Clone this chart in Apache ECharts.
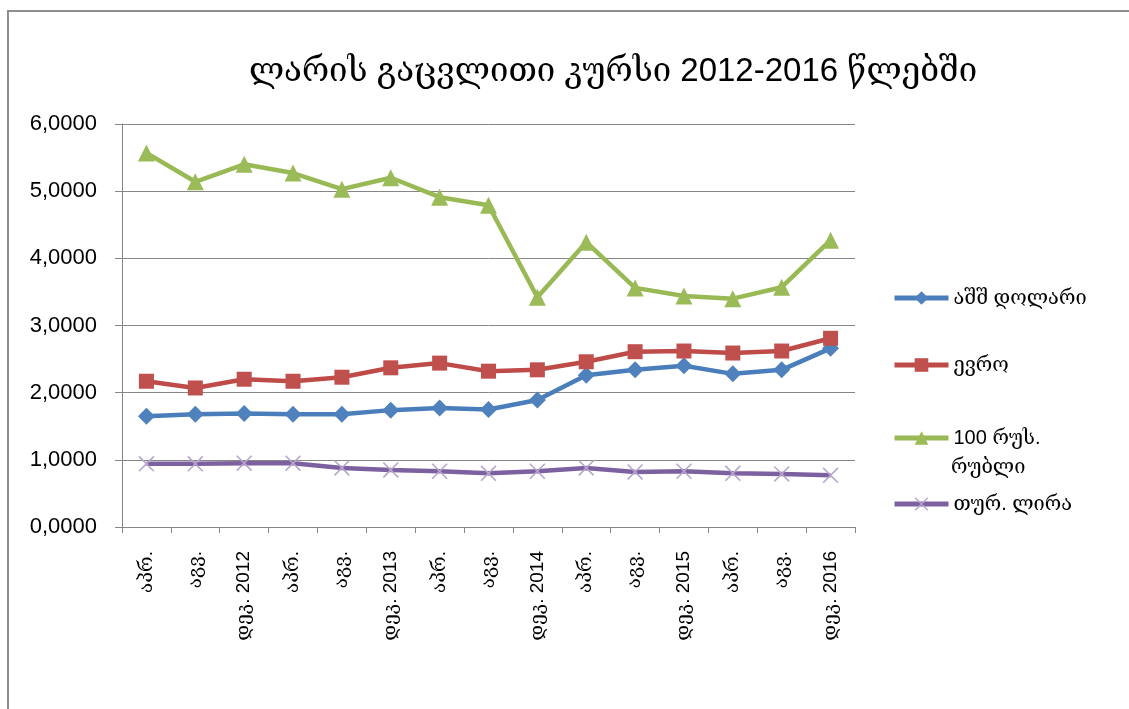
<!DOCTYPE html>
<html>
<head>
<meta charset="utf-8">
<script src="https://cdn.jsdelivr.net/npm/echarts@6/dist/echarts.min.js"></script>
<style>
  html, body { margin: 0; padding: 0; background: #fff; }
  #frame { position: absolute; left: 7px; top: 10px; width: 1130px; height: 710px;
           border-left: 2px solid #8e8e8e; border-top: 2px solid #8e8e8e; }
  #chart { width: 1129px; height: 709px; position: absolute; left: 0; top: 0; }
</style>
</head>
<body>
<div id="frame"></div>
<div id="chart"></div>
<script>
const months = ['აპრ.', 'აგვ.', 'დეკ. 2012', 'აპრ.', 'აგვ.', 'დეკ. 2013', 'აპრ.', 'აგვ.', 'დეკ. 2014',
  'აპრ.', 'აგვ.', 'დეკ. 2015', 'აპრ.', 'აგვ.', 'დეკ. 2016'];
const usd = [1.65, 1.68, 1.69, 1.68, 1.68, 1.74, 1.77, 1.75, 1.89, 2.26, 2.34, 2.40, 2.28, 2.34, 2.66];
const eur = [2.17, 2.07, 2.20, 2.17, 2.23, 2.37, 2.44, 2.32, 2.34, 2.46, 2.61, 2.62, 2.59, 2.62, 2.81];
const rub = [5.57, 5.14, 5.40, 5.27, 5.03, 5.20, 4.91, 4.79, 3.42, 4.24, 3.56, 3.44, 3.40, 3.57, 4.27];
const tryl = [0.94, 0.94, 0.95, 0.95, 0.88, 0.85, 0.83, 0.80, 0.83, 0.88, 0.82, 0.83, 0.80, 0.79, 0.77];
const names = ['აშშ დოლარი', 'ევრო', '100 რუს. რუბლი', 'თურ. ლირა'];
const yTicks = [0, 1, 2, 3, 4, 5, 6];

// latin digits from Liberation Sans, georgian falls back to a serif face
const font = 'Liberation Sans, DejaVu Serif, DejaVu Sans, serif';
const xMark = 'path://M0,0.7L0.7,0L10,9.3L9.3,10Z M9.3,0L10,0.7L0.7,10L0,9.3Z';

const chart = echarts.init(document.getElementById('chart'));

function line(name, data, color, symbol, size, symColor) {
  return {
    name: name, type: 'line', data: data,
    symbol: symbol, symbolSize: size,
    lineStyle: { color: color, width: 4.5 },
    itemStyle: { color: symColor || color },
    animation: false
  };
}

function legendAt(name, top, label) {
  return {
    data: [name], orient: 'vertical', left: 892, top: top, padding: 0,
    itemWidth: 54, itemHeight: 17, itemGap: 0,
    lineStyle: { width: 5 },
    formatter: function () { return label || name; },
    textStyle: { fontFamily: font, fontSize: 20, color: '#000' }
  };
}

chart.setOption({
  backgroundColor: 'transparent',
  title: {
    text: 'ლარის გაცვლითი კურსი 2012-2016 წლებში',
    left: 608, top: 50, textAlign: 'center',
    textStyle: { fontFamily: font, fontSize: 33, fontWeight: 'normal', color: '#000' }
  },
  legend: [
    legendAt(names[0], 288),
    legendAt(names[1], 355),
    legendAt(names[2], 428, '100 რუს.'),
    legendAt(names[3], 494)
  ],
  graphic: [{
    type: 'text', left: 951, top: 457,
    style: { text: 'რუბლი', fontFamily: font, fontSize: 20, fill: '#000' }
  }],
  grid: { left: 122, right: 274, top: 124, bottom: 182 },
  xAxis: {
    type: 'category', data: months, boundaryGap: true,
    axisLine: { lineStyle: { color: '#868686', width: 1 } },
    axisTick: { show: true, length: 6, lineStyle: { color: '#868686' } },
    axisLabel: { rotate: 90, margin: 24, fontFamily: font, fontSize: 19, color: '#000', interval: 0 }
  },
  yAxis: {
    type: 'value', min: yTicks[0], max: yTicks[yTicks.length - 1], interval: 1,
    axisLine: { show: true, lineStyle: { color: '#868686', width: 1 } },
    axisTick: { show: true, length: 7, lineStyle: { color: '#868686' } },
    splitLine: { lineStyle: { color: '#868686', width: 1 } },
    axisLabel: {
      margin: 25, fontFamily: font, fontSize: 22, color: '#000',
      formatter: function (v) { return v.toFixed(4).replace('.', ','); }
    }
  },
  series: [
    line(names[0], usd, '#4A7EBB', 'diamond', 17, '#4F81BD'),
    line(names[1], eur, '#BE4B48', 'rect', 15, '#C0504D'),
    line(names[2], rub, '#98B954', 'triangle', 17, '#9BBB59'),
    line(names[3], tryl, '#7D60A0', xMark, 16, '#B6A6CC')
  ]
});
</script>
</body>
</html>
